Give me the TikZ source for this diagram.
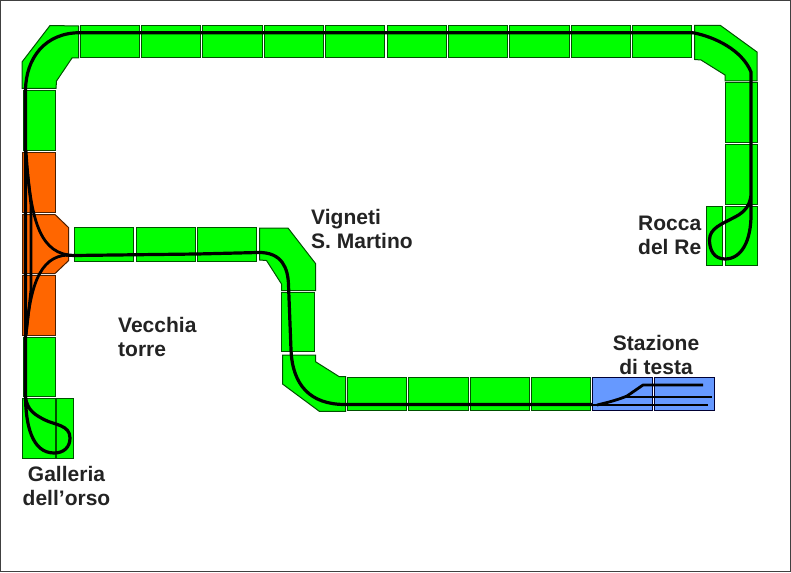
\documentclass[tikz,border=0pt]{standalone}
\usepackage{fontspec}
\setmainfont{Liberation Sans}
\definecolor{tgreen}{RGB}{0,255,0}
\definecolor{torange}{RGB}{255,102,0}
\definecolor{tblue}{RGB}{102,153,255}
\definecolor{tedge}{RGB}{0,80,0}
\definecolor{tinkc}{RGB}{35,35,35}
\tikzset{
 gseg/.style={draw=tedge,fill=tgreen,line width=1pt,line join=miter},
 oseg/.style={draw=black!70!torange,fill=torange,line width=1pt},
 bseg/.style={draw=black!80!blue,fill=tblue,line width=1pt},
 track/.style={draw=black,line width=3.2pt,line join=round},
 thin track/.style={draw=black,line width=2.8pt,line join=round},
 lab/.style={text=tinkc,font=\fontsize{21}{24}\selectfont\bfseries,align=left,inner sep=0pt,anchor=north west},
 labc/.style={lab,align=center,anchor=north}
}
\begin{document}
\begin{tikzpicture}[x=1pt,y=-1pt]
\useasboundingbox (0,0) rectangle (791,572);
\fill[white] (0,0) rectangle (791,572);
\draw[black!75,line width=1.2pt] (.6,571.4) -- (.6,.6) -- (790.4,.6) -- (790.4,571.4) -- cycle;
% top row
\foreach \x in {80,141.4,202.8,264.2,325.6,387,448.4,509.8,571.2,632.6}
  \draw[gseg] (\x,25.5) rectangle ++(59.3,32);
% corners
\draw[gseg] (50,25.5) -- (78.5,26) -- (78.5,58) -- (72,58) -- (56.5,81) -- (56,88.5) -- (22,88.5) -- (22,62) -- cycle;
\draw[gseg] (694.5,25.5) -- (720.5,25.5) -- (757,52) -- (757,81) -- (725,81) -- (725,75) -- (701,60) -- (694.5,59.5) -- cycle;
% left col
\draw[gseg] (23,91) rectangle (55,151);
\draw[oseg] (22.5,153) rectangle (55,212.5);
\draw[oseg] (22.5,214.5) -- (55,214.5) -- (68.5,227.5) -- (68.5,260.7) -- (55,273.5) -- (22.5,273.5) -- cycle;
\draw[oseg] (22.5,275.5) rectangle (55,335);
\draw[gseg] (23,337) rectangle (55,396.5);
\draw[gseg] (22.5,398.5) rectangle (55,458);
\draw[gseg] (56.5,398.5) rectangle (73,458);
% right col
\draw[gseg] (725,83) rectangle (757,143);
\draw[gseg] (725,145) rectangle (757,204.5);
\draw[gseg] (725,206.5) rectangle (757,265.5);
\draw[gseg] (706.5,206) rectangle (722,265);
% middle
\foreach \x in {74,136,197}
  \draw[gseg] (\x,227) rectangle ++(59.3,34);
\draw[gseg] (259.5,228) -- (288,228) -- (315.5,263.5) -- (315.5,290.5) -- (281.5,290.5) -- (281.5,284) -- (266.5,260.5) -- (259.5,260) -- cycle;
\draw[gseg] (281.5,292) rectangle (314,351);
\draw[gseg] (282.5,355) -- (315.5,355) -- (315.5,361.7) -- (339.3,376.7) -- (345.5,376.7) -- (345.5,411.3) -- (319.3,411.3) -- (282.5,384) -- cycle;
\foreach \x in {347,408.5,470,531}
  \draw[gseg] (\x,377) rectangle ++(59.5,33);
\draw[bseg] (592.5,377) rectangle (652,410);
\draw[bseg] (654,377) rectangle (714,410);
% tracks
\draw[track] (693,32.7) -- (80,32.7) .. controls (45,32.7) and (26,58) .. (25.5,90) -- (25.5,395)
  .. controls (25.5,425) and (32,453) .. (54,453) .. controls (64,453) and (70,447) .. (70,438)
  .. controls (70,425) and (55,425) .. (45,420) .. controls (35,415) and (27,410) .. (25.5,397);
\draw[track] (693,32.7) .. controls (715,37) and (742,50) .. (751,72) -- (751,215)
  .. controls (751,240) and (742,259) .. (725,259) .. controls (714,259) and (709.5,250) .. (709.5,240)
  .. controls (709.5,228) and (722,224) .. (735,217) .. controls (745,212) and (750,205) .. (751,195);
\draw[track] (74,255.5) -- (197,254) -- (258,252.5) .. controls (282,252) and (288,268) .. (288.5,285)
  -- (291,350) .. controls (292.5,385) and (310,404.5) .. (345,404.5) -- (592,404.5);
\draw[thin track] (26,150) .. controls (30,215) and (38,250) .. (68,255);
\draw[thin track] (26,335) .. controls (30,290) and (38,256) .. (68,255);
\draw[thin track] (26,160) -- (31,205) -- (31,290) -- (26,335);
\draw[track] (66,255) -- (74,255.5);
% station
\draw[thin track] (592,405) -- (708,405);
\draw[thin track] (597,405) .. controls (610,402) and (620,399) .. (627,396) -- (643,385) -- (703,385);
\draw[thin track] (623,397) -- (712,397);
% labels
\node[lab] (vig) at (311,209) {Vigneti\\S. Martino};
\node[lab] (vec) at (118,317) {Vecchia\\torre};
\node[lab] (roc) at (638,215.5) {Rocca\\del Re};
\node[labc] (sta) at (656,335) {Stazione\\di testa};
\node[labc] (gal) at (66.5,466.5) {Galleria\\dell’orso};
\end{tikzpicture}
\end{document}
